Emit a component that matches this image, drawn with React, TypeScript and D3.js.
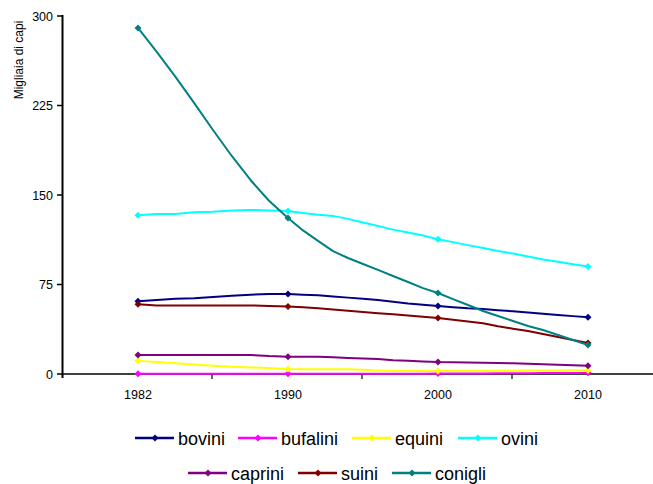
import React from "react";
import * as d3 from "d3";

const years = [1982, 1983, 1984, 1985, 1986, 1987, 1988, 1989, 1990, 1991, 1992, 1993, 1994, 1995, 1996, 1997, 1998, 1999, 2000, 2001, 2002, 2003, 2004, 2005, 2006, 2007, 2008, 2009, 2010];
const labelYears = [1982, 1990, 2000, 2010];
const yTicks = [0, 75, 150, 225, 300];

const bovini = [61, 62, 63, 63.5, 64.5, 65.5, 66.5, 67, 67, 66.5, 66, 65, 64, 63, 62, 60.5, 59, 58, 57, 56, 55, 54.5, 53.5, 52.5, 51.5, 50.5, 49.5, 48.5, 47.5];
const bufalini = [0.3, 0.3, 0.3, 0.3, 0.3, 0.3, 0.3, 0.3, 0.3, 0.3, 0.3, 0.3, 0.3, 0.3, 0.3, 0.3, 0.3, 0.3, 0.4, 0.4, 0.5, 0.5, 0.6, 0.6, 0.7, 0.8, 0.8, 0.9, 1.0];
const equini = [11, 10, 9, 8, 7, 6, 5.5, 5, 4.2, 4, 4, 4, 4, 3.5, 3, 2.8, 2.6, 2.5, 2.5, 2.5, 2.5, 2.6, 2.7, 2.8, 2.9, 3.0, 3.0, 3.1, 3.2];
const ovini = [133, 134, 134, 135.5, 136, 137, 137.5, 137, 136.5, 135, 133.5, 132.5, 130, 127, 124, 121, 118.5, 116, 113, 110.5, 108, 105.5, 103, 101, 98.5, 96, 94, 92, 90];
const caprini = [16, 16, 16, 16, 16, 16, 16, 15, 14.5, 14.5, 14.5, 14, 13.5, 13, 12.5, 11.5, 11, 10.5, 10, 9.8, 9.6, 9.4, 9.2, 9, 8.6, 8.2, 7.8, 7.4, 7];
const suini = [58.5, 57.5, 57.5, 57.5, 57.5, 57.5, 57.5, 57, 56.5, 56, 55, 54, 53, 52, 51, 50, 49, 48, 47, 45.5, 44, 42.5, 40, 38, 36, 33.5, 31, 28.5, 26];
const conigli = [290, 270, 249, 227, 204.5, 182.7, 162.6, 145, 130.7, 120.3, 111.5, 103, 97.2, 92.2, 87.2, 82.1, 77.1, 72, 67.9, 62.8, 57.8, 52.8, 48.6, 44.4, 40.2, 36.9, 32.7, 28.5, 24.3];

const seriesNames = ["bovini", "bufalini", "equini", "ovini", "caprini", "suini", "conigli"];
const seriesValues = [bovini, bufalini, equini, ovini, caprini, suini, conigli];
const seriesColors = ["#000080", "#FF00FF", "#FFFF00", "#00FFFF", "#800080", "#800000", "#008080"];

// legend layout (symbol start x, symbol y)
const legendPos = [
  { x: 135, y: 438 },
  { x: 238, y: 438 },
  { x: 352, y: 438 },
  { x: 458, y: 438 },
  { x: 188, y: 473 },
  { x: 298, y: 473 },
  { x: 392, y: 473 },
];

const FONT = "'Liberation Sans', Arial, sans-serif";

function diamond(cx: number, cy: number, r: number) {
  return `M${cx},${cy - r}L${cx + r},${cy}L${cx},${cy + r}L${cx - r},${cy}Z`;
}

export default function App() {
  const W = 653;
  const H = 484;
  const x = d3.scaleLinear().domain([1982, 1990, 2000, 2010]).range([138, 288, 438, 588]);
  const y = d3.scaleLinear().domain([0, 300]).range([374, 16]);
  const line = d3
    .line<[number, number]>()
    .x((d) => x(d[0]))
    .y((d) => y(d[1]));
  const catTicks = [212, 362, 512];

  return (
    <svg width={W} height={H} style={{ position: "absolute", left: 0, top: 0, background: "#fff" }} fontFamily={FONT}>
      <rect x={0} y={0} width={W} height={H} fill="#fff" />
      {/* y axis title */}
      <text transform="translate(23,60) rotate(-90)" textAnchor="middle" fontSize={12} fill="#000">
        Migliaia di capi
      </text>
      {/* y ticks */}
      {yTicks.map((t) => (
        <g key={t}>
          <line x1={57} x2={62} y1={y(t)} y2={y(t)} stroke="#000" strokeWidth={1.5} />
          <text x={53} y={y(t) + 4.5} textAnchor="end" fontSize={12.5} fill="#000">
            {t}
          </text>
        </g>
      ))}
      {/* x axis */}
      <line x1={57} x2={653} y1={374} y2={374} stroke="#404040" strokeWidth={2} />
      {catTicks.map((t) => (
        <line key={t} x1={t} x2={t} y1={374} y2={379} stroke="#000" strokeWidth={1.2} />
      ))}
      {labelYears.map((yr) => (
        <text key={yr} x={x(yr)} y={399} textAnchor="middle" fontSize={12.5} fill="#000">
          {yr}
        </text>
      ))}
      {/* y axis line */}
      <line x1={62.5} x2={62.5} y1={15} y2={378} stroke="#000" strokeWidth={2} />
      {/* series */}
      {seriesValues.map((vals, i) => {
        const pts = years.map((yr, j) => [yr, vals[j]] as [number, number]);
        return (
          <g key={seriesNames[i]}>
            <path d={line(pts) || ""} fill="none" stroke={seriesColors[i]} strokeWidth={2} strokeLinejoin="round" />
            {labelYears.map((yr) => {
              const j = years.indexOf(yr);
              return <path key={yr} d={diamond(x(yr), y(vals[j]), 3.5)} fill={seriesColors[i]} />;
            })}
          </g>
        );
      })}
      {/* legend */}
      {seriesNames.map((name, i) => {
        const p = legendPos[i];
        return (
          <g key={name}>
            <line x1={p.x} x2={p.x + 39} y1={p.y} y2={p.y} stroke={seriesColors[i]} strokeWidth={2.5} />
            <path d={diamond(p.x + 20, p.y, 3.5)} fill={seriesColors[i]} />
            <text x={p.x + 43} y={p.y + 6.5} fontSize={18} fill="#000">
              {name}
            </text>
          </g>
        );
      })}
    </svg>
  );
}
